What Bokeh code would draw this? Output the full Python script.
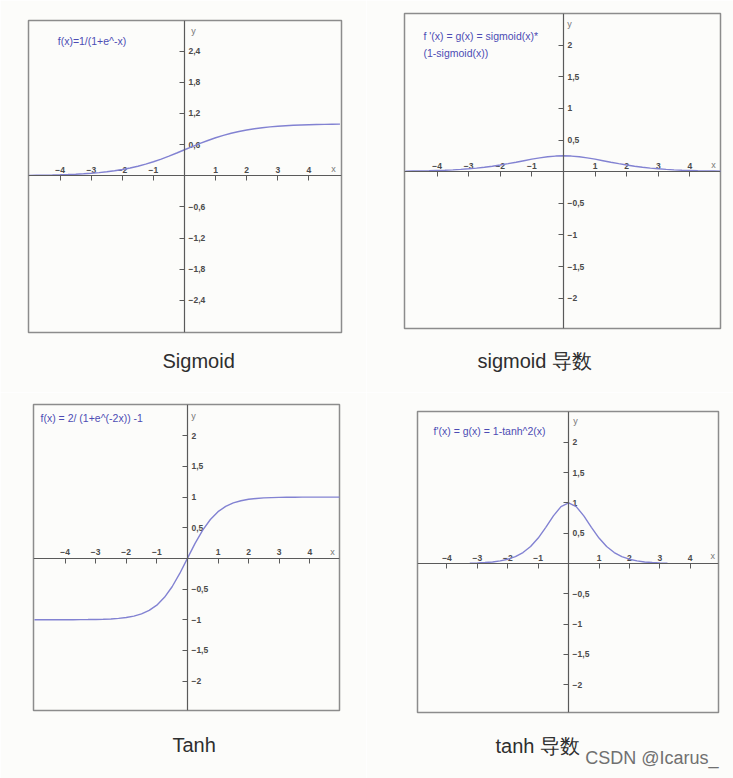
from bokeh.plotting import figure
from bokeh.models import Range1d, Label, Title, FixedTicker
from bokeh.layouts import column, row
from bokeh.core.properties import value
from bokeh.embed import file_html
from bokeh.resources import INLINE

# ---------------- data ----------------
x_full = [-5.0, -4.75, -4.5, -4.25, -4.0, -3.75, -3.5, -3.25, -3.0, -2.75, -2.5,
          -2.25, -2.0, -1.75, -1.5, -1.25, -1.0, -0.75, -0.5, -0.25, 0.0,
          0.25, 0.5, 0.75, 1.0, 1.25, 1.5, 1.75, 2.0, 2.25, 2.5,
          2.75, 3.0, 3.25, 3.5, 3.75, 4.0, 4.25, 4.5, 4.75, 5.0]

sigmoid_y = [0.007, 0.009, 0.011, 0.014, 0.018, 0.023, 0.029, 0.037, 0.047, 0.060, 0.076,
             0.095, 0.119, 0.148, 0.182, 0.223, 0.269, 0.321, 0.378, 0.438, 0.500,
             0.562, 0.622, 0.679, 0.731, 0.777, 0.818, 0.852, 0.881, 0.905, 0.924,
             0.940, 0.953, 0.963, 0.971, 0.977, 0.982, 0.986, 0.989, 0.991, 0.993]

sigmoid_d_y = [0.007, 0.009, 0.011, 0.014, 0.018, 0.022, 0.028, 0.036, 0.045, 0.056, 0.070,
               0.086, 0.105, 0.126, 0.149, 0.173, 0.197, 0.218, 0.235, 0.246, 0.250,
               0.246, 0.235, 0.218, 0.197, 0.173, 0.149, 0.126, 0.105, 0.086, 0.070,
               0.056, 0.045, 0.036, 0.028, 0.022, 0.018, 0.014, 0.011, 0.009, 0.007]

tanh_y = [-1.0, -1.0, -1.0, -1.0, -0.999, -0.999, -0.998, -0.997, -0.995, -0.992, -0.987,
          -0.978, -0.964, -0.941, -0.905, -0.848, -0.762, -0.635, -0.462, -0.245, 0.0,
          0.245, 0.462, 0.635, 0.762, 0.848, 0.905, 0.941, 0.964, 0.978, 0.987,
          0.992, 0.995, 0.997, 0.998, 0.999, 0.999, 1.0, 1.0, 1.0, 1.0]

x_tanh_d = [-3.25, -3.0, -2.75, -2.5, -2.25, -2.0, -1.75, -1.5, -1.25, -1.0, -0.75, -0.5, -0.25, 0.0,
            0.25, 0.5, 0.75, 1.0, 1.25, 1.5, 1.75, 2.0, 2.25, 2.5, 2.75, 3.0, 3.25]
tanh_d_y = [0.006, 0.010, 0.016, 0.026, 0.043, 0.071, 0.115, 0.181, 0.281, 0.420, 0.597, 0.786, 0.940, 1.0,
            0.940, 0.786, 0.597, 0.420, 0.281, 0.181, 0.115, 0.071, 0.043, 0.026, 0.016, 0.010, 0.006]

x_ticks = [-4, -3, -2, -1, 1, 2, 3, 4]
x_tick_labels = ["\u22124", "\u22123", "\u22122", "\u22121", "1", "2", "3", "4"]

y_ticks_sig = [-2.4, -1.8, -1.2, -0.6, 0.6, 1.2, 1.8, 2.4]
y_tick_labels_sig = ["\u22122,4", "\u22121,8", "\u22121,2", "\u22120,6", "0,6", "1,2", "1,8", "2,4"]

y_ticks_half = [-2, -1.5, -1, -0.5, 0.5, 1, 1.5, 2]
y_tick_labels_half = ["\u22122", "\u22121,5", "\u22121", "\u22120,5", "0,5", "1", "1,5", "2"]

captions = ["Sigmoid", "sigmoid 导数", "Tanh", "tanh 导数"]
formulas = [["f(x)=1/(1+e^-x)"],
            ["f '(x) = g(x) = sigmoid(x)*", "(1-sigmoid(x))"],
            ["f(x) = 2/ (1+e^(-2x)) -1"],
            ["f'(x) = g(x) = 1-tanh^2(x)"]]
watermark = "CSDN @Icarus_"

# ---------------- styling ----------------
BG = "#fcfcfa"
CURVE = "#8282d2"
AXIS = "#5a5a5a"
FRAME = "#8c8c8c"
FORMULA = "#4c4cb4"
FONT_NAME = "Liberation Sans"
FONT = value(FONT_NAME)


def style_caption(t, offset, standoff):
    t.align = "left"
    t.offset = offset
    t.standoff = standoff
    t.text_font = FONT_NAME
    t.text_font_size = "20px"
    t.text_font_style = "normal"
    t.text_color = "#2e2e2e"


def make_panel(width, height, borders, xr, yr, xs, ys, yticks, yticklabels,
               formula, f_pos, f_step, y_pos, x_pos):
    left, right, top, bottom = borders
    p = figure(width=width, height=height,
               x_range=Range1d(*xr), y_range=Range1d(*yr),
               x_axis_location="below", y_axis_location="left",
               title_location="below",
               toolbar_location=None, output_backend="svg",
               min_border_left=left, min_border_right=right,
               min_border_top=top, min_border_bottom=bottom)
    p.grid.grid_line_color = None
    p.background_fill_color = BG
    p.border_fill_color = BG
    p.outline_line_color = FRAME
    p.outline_line_width = 1.5

    # axes drawn through the origin, ticks pointing down / left
    for ax, ticks in ((p.xaxis[0], x_ticks), (p.yaxis[0], yticks)):
        ax.fixed_location = 0
        ax.ticker = FixedTicker(ticks=ticks)
        ax.minor_tick_line_color = None
        ax.major_tick_in = 0
        ax.major_tick_out = 5
        ax.major_tick_line_color = AXIS
        ax.axis_line_color = AXIS
        ax.axis_line_width = 1.2
        ax.major_label_text_font_size = "0px"
        ax.major_label_text_color = None
        ax.major_label_standoff = 0

    # tick labels: above the x axis, right of the y axis
    p.text(x=x_ticks, y=[0] * len(x_ticks), text=x_tick_labels,
           text_font=FONT, text_font_size="8.5px", text_font_style="bold",
           text_color="#4a4a4a", text_align="center", text_baseline="bottom",
           y_offset=-3)
    p.text(x=[0] * len(yticks), y=yticks, text=yticklabels,
           text_font=FONT, text_font_size="8.5px", text_font_style="bold",
           text_color="#4a4a4a", text_align="left", text_baseline="middle",
           x_offset=4)

    # axis names
    p.add_layout(Label(x=y_pos[0], y=y_pos[1], text="y", text_font=FONT_NAME,
                       text_font_size="9px", text_color="#777777",
                       text_align="center", text_baseline="middle"))
    p.add_layout(Label(x=x_pos[0], y=x_pos[1], text="x", text_font=FONT_NAME,
                       text_font_size="9px", text_color="#777777",
                       text_align="center", text_baseline="middle"))

    # curve
    p.line(xs, ys, line_color=CURVE, line_width=1.4)

    # formula text
    for i, line in enumerate(formula):
        p.add_layout(Label(x=f_pos[0], y=f_pos[1] - i * f_step, text=line,
                           text_font=FONT_NAME, text_font_size="10.5px",
                           text_color=FORMULA, text_align="left",
                           text_baseline="middle"))
    return p


p1 = make_panel(366, 392, (28, 25, 20, 60), (-5.02, 5.05), (-3.02, 2.99),
                x_full, sigmoid_y, y_ticks_sig, y_tick_labels_sig,
                formulas[0], (-4.08, 2.60), 0.33, (0.29, 2.79), (4.79, 0.12))
p1.title.text = captions[0]
style_caption(p1.title, 134, 31)

p2 = make_panel(367, 392, (38, 13, 13, 64), (-5.03, 4.97), (-2.48, 2.50),
                x_full, sigmoid_d_y, y_ticks_half, y_tick_labels_half,
                formulas[1], (-4.43, 2.15), 0.27, (0.19, 2.34), (4.75, 0.11))
p2.title.text = captions[1]
style_caption(p2.title, 73, 38)

p3 = make_panel(366, 386, (33, 27, 12, 68), (-5.03, 4.97), (-2.48, 2.51),
                x_full, tanh_y, y_ticks_half, y_tick_labels_half,
                formulas[2], (-4.80, 2.29), 0.27, (0.20, 2.33), (4.74, 0.11))
p3.title.text = captions[2]
style_caption(p3.title, 139, 42)

p4 = make_panel(367, 386, (51, 15, 19, 66), (-4.97, 4.93), (-2.46, 2.51),
                x_tanh_d, tanh_d_y, y_ticks_half, y_tick_labels_half,
                formulas[3], (-4.44, 2.19), 0.27, (0.23, 2.36), (4.74, 0.13))
cap4 = Title(text=captions[3])
style_caption(cap4, 78, 40)
p4.add_layout(cap4, "below")
# watermark is the outermost title, pulled up next to the caption
p4.title.text = watermark
p4.title.align = "right"
p4.title.vertical_align = "top"
p4.title.standoff = -57
p4.title.text_font = FONT_NAME
p4.title.text_font_size = "18px"
p4.title.text_font_style = "normal"
p4.title.text_color = "#707070"

layout = column(row(column(p1), column(p2)), row(column(p3), column(p4)))

open("out.html", "w").write(file_html(layout, INLINE))
